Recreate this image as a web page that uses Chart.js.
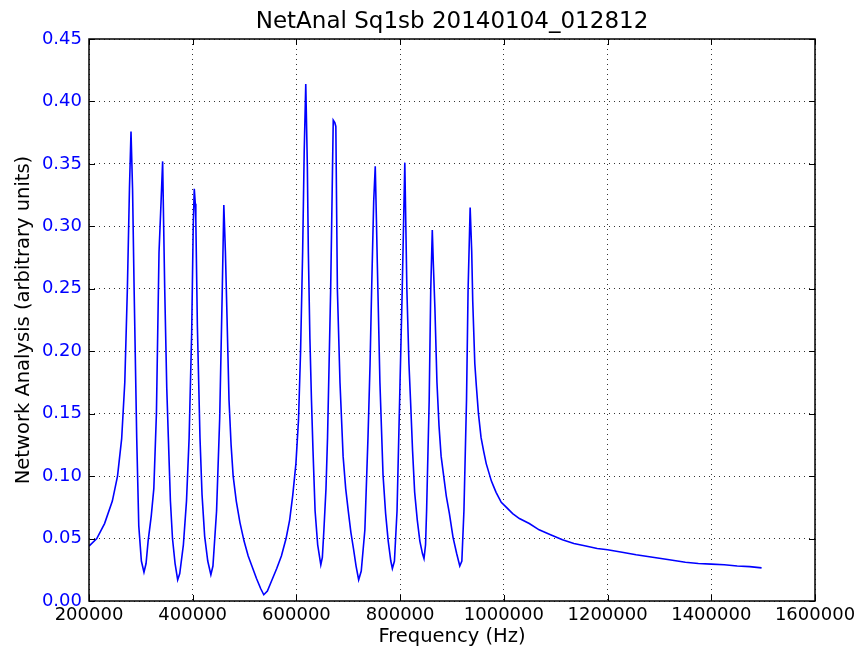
<!DOCTYPE html>
<html lang="en">
  <head>
    <meta charset="UTF-8" />
    <title>NetAnal Sq1sb 20140104_012812</title>
    <style>
      * {
        margin: 0;
        padding: 0;
        box-sizing: border-box;
      }

      body {
        width: 861px;
        height: 652px;
        background: #ffffff;
        overflow: hidden;
      }

      .graph {
        position: relative;
        width: 861px;
        height: 652px;
      }
    </style>
  </head>
  <body>
    <div class="graph">
      <canvas id="myChart"></canvas>
    </div>
    <script src="https://cdn.jsdelivr.net/npm/chart.js"></script>
    <script>
      // network analysis sweep, frequency in Hz
      const freqs = [
        200000, 215000, 230000, 245000, 255000, 263000, 269000, 274000, 278000,
        281000, 284000, 287000, 292000, 296000, 301000, 306000, 310000, 314000,
        320000, 325000, 330000, 335000, 339000, 342000, 344000, 346000, 350000,
        353000, 357000, 361000, 366000, 371000, 375000, 382000, 388000, 393000,
        398000, 401000, 403000, 405000, 406000, 409000, 414000, 418000, 423000,
        429000, 435000, 439000, 446000, 452000, 457000, 460000, 463000, 466000,
        470000, 474000, 478000, 484000, 491000, 499000, 507000, 515000, 523000,
        531000, 537000, 544000, 552000, 562000, 571000, 580000, 587000, 593000,
        599000, 604000, 608000, 612000, 615000, 618000, 621000, 623000, 626000,
        629000, 632000, 636000, 641000, 647000, 650000, 653000, 657000, 660000,
        663000, 666000, 669000, 671000, 674000, 676000, 679000, 684000, 690000,
        695000, 700000, 705000, 710000, 715000, 720000, 725000, 732000, 738000,
        742000, 745000, 749000, 752000, 754000, 756000, 761000, 767000, 772000,
        777000, 782000, 785000, 789000, 794000, 799000, 804000, 807000, 809000,
        811000, 813000, 817000, 820000, 824000, 828000, 833000, 838000, 843000,
        846000, 849000, 851000, 856000, 859000, 862000, 864000, 867000, 871000,
        875000, 879000, 884000, 889000, 895000, 902000, 909000, 915000, 919000,
        923000, 928000, 931000, 935000, 938000, 940000, 944000, 947000, 951000,
        956000, 961000, 966000, 971000, 976000, 981000, 985000, 990000, 995000,
        1005000, 1017000, 1030000, 1049000, 1068000, 1090000, 1113000, 1135000,
        1158000, 1180000, 1200000, 1228000, 1255000, 1287000, 1319000, 1350000,
        1375000, 1400000, 1425000, 1450000, 1474000, 1497000,
      ];

      // amplitude (arbitrary units)
      const amps = [
        0.044, 0.05, 0.062, 0.08, 0.1, 0.13, 0.175, 0.25, 0.33,
        0.376, 0.33, 0.25, 0.131, 0.06, 0.032, 0.023, 0.03, 0.048,
        0.068, 0.09, 0.15, 0.279, 0.32, 0.352, 0.3, 0.25, 0.17,
        0.131, 0.08, 0.05, 0.03, 0.017, 0.022, 0.045, 0.08, 0.13,
        0.215, 0.3, 0.33, 0.318, 0.305, 0.22, 0.131, 0.085, 0.052,
        0.032, 0.021, 0.028, 0.072, 0.146, 0.249, 0.317, 0.28, 0.23,
        0.161, 0.125, 0.1, 0.08, 0.063, 0.048, 0.036, 0.027, 0.018,
        0.01, 0.005, 0.008, 0.016, 0.026, 0.036, 0.05, 0.065, 0.085,
        0.11, 0.145, 0.2, 0.28, 0.36, 0.414, 0.35, 0.279, 0.21,
        0.161, 0.12, 0.072, 0.045, 0.029, 0.035, 0.057, 0.09, 0.131,
        0.19, 0.249, 0.33, 0.385, 0.383, 0.38, 0.249, 0.175, 0.116,
        0.09, 0.072, 0.055, 0.042, 0.028, 0.017, 0.024, 0.057, 0.131,
        0.19, 0.249, 0.32, 0.348, 0.31, 0.27, 0.175, 0.101, 0.07,
        0.048, 0.032, 0.026, 0.032, 0.072, 0.161, 0.249, 0.31, 0.351,
        0.3, 0.249, 0.19, 0.161, 0.12, 0.087, 0.065, 0.048, 0.038,
        0.034, 0.045, 0.072, 0.161, 0.249, 0.297, 0.27, 0.235, 0.175,
        0.14, 0.116, 0.1, 0.084, 0.07, 0.051, 0.038, 0.028, 0.032,
        0.072, 0.161, 0.249, 0.315, 0.28, 0.24, 0.19, 0.172, 0.15,
        0.131, 0.12, 0.11, 0.103, 0.096, 0.091, 0.087, 0.083, 0.079,
        0.075, 0.07, 0.066, 0.062, 0.057, 0.053, 0.049, 0.046,
        0.044, 0.042, 0.041, 0.039, 0.037, 0.035, 0.033, 0.031,
        0.03, 0.0295, 0.029, 0.028, 0.0275, 0.0265,
      ];

      const xMin = 200000;
      const xMax = 1600000;
      const xStep = 200000;
      const yMin = 0;
      const yMax = 0.45;
      const yStep = 0.05;
      const titulo = "NetAnal Sq1sb 20140104_012812";

      const points = freqs.map((f, i) => ({ x: f, y: amps[i] }));

      // box around the axes with small inward ticks on every side,
      // plus the title centred over the plot area
      const frame = {
        id: "frame",
        afterDraw(chart) {
          const { ctx, chartArea: a, scales } = chart;
          ctx.save();
          ctx.strokeStyle = "#000";
          ctx.lineWidth = 1;
          ctx.beginPath();
          scales.x.ticks.forEach((t) => {
            const px = Math.round(scales.x.getPixelForValue(t.value)) + 0.5;
            ctx.moveTo(px, a.bottom);
            ctx.lineTo(px, a.bottom - 6);
            ctx.moveTo(px, a.top);
            ctx.lineTo(px, a.top + 6);
          });
          scales.y.ticks.forEach((t) => {
            const py = Math.round(scales.y.getPixelForValue(t.value)) + 0.5;
            ctx.moveTo(a.left, py);
            ctx.lineTo(a.left + 6, py);
            ctx.moveTo(a.right, py);
            ctx.lineTo(a.right - 6, py);
          });
          ctx.stroke();
          ctx.lineWidth = 1.5;
          ctx.strokeRect(a.left, a.top, a.right - a.left, a.bottom - a.top);

          ctx.fillStyle = "#000";
          ctx.font = "23px 'DejaVu Sans', sans-serif";
          ctx.textAlign = "center";
          ctx.textBaseline = "middle";
          ctx.fillText(titulo, (a.left + a.right) / 2, 22);
          ctx.restore();
        },
      };

      Chart.defaults.font.family = "'DejaVu Sans', sans-serif";
      Chart.defaults.color = "#000";

      const ctx = document.getElementById("myChart").getContext("2d");
      const miGrafico = new Chart(ctx, {
        type: "line",
        data: {
          datasets: [
            {
              data: points,
              borderColor: "#0000ff",
              borderWidth: 1.6,
              pointRadius: 0,
              tension: 0,
              fill: false,
            },
          ],
        },
        options: {
          responsive: true,
          maintainAspectRatio: false,
          animation: false,
          layout: {
            padding: { left: 0, right: 46, top: 39, bottom: 0 },
          },
          plugins: {
            legend: { display: false },
            tooltip: { enabled: false },
            title: { display: false },
          },
          scales: {
            x: {
              type: "linear",
              min: xMin,
              max: xMax,
              afterFit(scale) {
                scale.height = 51;
              },
              ticks: {
                stepSize: xStep,
                color: "#000",
                font: { size: 18 },
                padding: 4,
                maxRotation: 0,
                autoSkip: false,
                callback: (v) => String(v),
              },
              grid: {
                color: "#000",
                lineWidth: 0.8,
                drawTicks: false,
              },
              border: { display: false, dash: [1, 4] },
              title: {
                display: true,
                text: "Frequency (Hz)",
                color: "#000",
                font: { size: 19.5 },
                padding: { top: 0, bottom: 3 },
              },
            },
            y: {
              type: "linear",
              min: yMin,
              max: yMax,
              afterFit(scale) {
                scale.width = 89;
              },
              ticks: {
                stepSize: yStep,
                color: "#0000ff",
                font: { size: 18 },
                padding: 7,
                callback: (v) => v.toFixed(2),
              },
              grid: {
                color: "#000",
                lineWidth: 0.8,
                drawTicks: false,
              },
              border: { display: false, dash: [1, 4] },
              title: {
                display: true,
                text: "Network Analysis (arbitrary units)",
                color: "#000",
                font: { size: 19.5 },
                padding: { top: 12, bottom: 0 },
              },
            },
          },
        },
        plugins: [frame],
      });
    </script>
  </body>
</html>
